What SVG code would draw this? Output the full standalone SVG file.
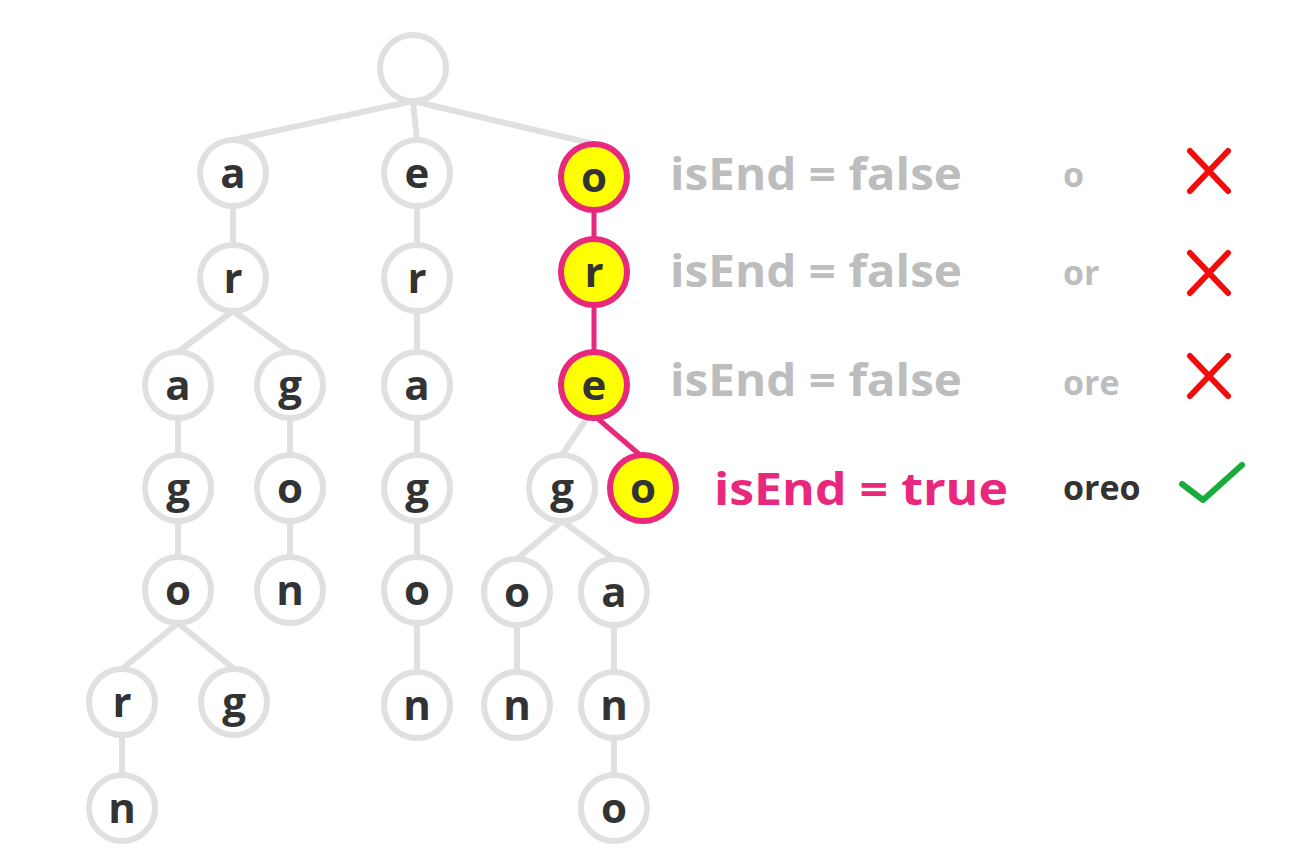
<svg xmlns="http://www.w3.org/2000/svg" width="1312" height="866" viewBox="0 0 1312 866">
<style>
.n circle{fill:#fff;stroke:#e0e0e0;stroke-width:6}
.h circle{fill:#ffff00;stroke:#e8287c;stroke-width:6}
.n text,.h text{font-family:"Open Sans",sans-serif;font-weight:700;font-size:42px;fill:#333;text-anchor:middle}
.e{stroke:#e0e0e0;stroke-width:6;fill:none}
.p{stroke:#e8287c;stroke-width:5;fill:none}
.lbl{font-family:"Open Sans",sans-serif;font-weight:700;font-size:45px;fill:#bdbdbd}
.w{font-family:"Open Sans",sans-serif;font-weight:700;font-size:34px;fill:#bdbdbd}
.x{stroke:#f20d0d;stroke-width:6;stroke-linecap:round;fill:none}
</style>
<rect width="1312" height="866" fill="#fff"/>
<g id="connectors">
<line class="e" x1="413" y1="101" x2="233" y2="140"/>
<line class="e" x1="413" y1="101" x2="417" y2="140"/>
<line class="e" x1="413" y1="101" x2="594" y2="144"/>
<line class="e" x1="233" y1="206" x2="233" y2="245"/>
<line class="e" x1="233" y1="311" x2="178" y2="352"/>
<line class="e" x1="233" y1="311" x2="290" y2="352"/>
<line class="e" x1="178" y1="418" x2="178" y2="455"/>
<line class="e" x1="290" y1="418" x2="290" y2="455"/>
<line class="e" x1="178" y1="521" x2="178" y2="557"/>
<line class="e" x1="290" y1="521" x2="290" y2="557"/>
<line class="e" x1="178" y1="623" x2="122" y2="669"/>
<line class="e" x1="178" y1="623" x2="234" y2="669"/>
<line class="e" x1="122" y1="735" x2="122" y2="775"/>
<line class="e" x1="417" y1="206" x2="417" y2="245"/>
<line class="e" x1="417" y1="311" x2="417" y2="352"/>
<line class="e" x1="417" y1="418" x2="417" y2="455"/>
<line class="e" x1="417" y1="521" x2="417" y2="557"/>
<line class="e" x1="417" y1="623" x2="417" y2="672"/>
<line class="e" x1="587" y1="418" x2="562" y2="455"/>
<line class="e" x1="562" y1="521" x2="517" y2="559"/>
<line class="e" x1="562" y1="521" x2="614" y2="559"/>
<line class="e" x1="517" y1="625" x2="517" y2="672"/>
<line class="e" x1="614" y1="625" x2="614" y2="672"/>
<line class="e" x1="614" y1="738" x2="614" y2="775"/>
<line class="p" x1="594" y1="210" x2="594" y2="239"/>
<line class="p" x1="594" y1="305" x2="594" y2="352"/>
<line class="p" x1="597" y1="418" x2="640" y2="455"/>
</g>
<g id="root" class="n"><circle cx="413" cy="68" r="33"/></g>
<g id="n-a" class="n"><circle cx="233" cy="173" r="33"/><text x="233" y="188">a</text></g>
<g id="n-e" class="n"><circle cx="417" cy="173" r="33"/><text x="417" y="188">e</text></g>
<g id="n-o" class="h"><circle cx="594" cy="177" r="33"/><text x="594" y="192">o</text></g>
<g id="n-ar" class="n"><circle cx="233" cy="278" r="33"/><text x="233" y="293">r</text></g>
<g id="n-er" class="n"><circle cx="417" cy="278" r="33"/><text x="417" y="293">r</text></g>
<g id="n-or" class="h"><circle cx="594" cy="272" r="33"/><text x="594" y="287">r</text></g>
<g id="n-ara" class="n"><circle cx="178" cy="385" r="33"/><text x="178" y="400">a</text></g>
<g id="n-arg" class="n"><circle cx="290" cy="385" r="33"/><text x="290" y="400">g</text></g>
<g id="n-era" class="n"><circle cx="417" cy="385" r="33"/><text x="417" y="400">a</text></g>
<g id="n-ore" class="h"><circle cx="594" cy="385" r="33"/><text x="594" y="400">e</text></g>
<g id="n-arag" class="n"><circle cx="178" cy="488" r="33"/><text x="178" y="503">g</text></g>
<g id="n-argo" class="n"><circle cx="290" cy="488" r="33"/><text x="290" y="503">o</text></g>
<g id="n-erag" class="n"><circle cx="417" cy="488" r="33"/><text x="417" y="503">g</text></g>
<g id="n-oreg" class="n"><circle cx="562" cy="488" r="33"/><text x="562" y="503">g</text></g>
<g id="n-oreo" class="h"><circle cx="643" cy="488" r="33"/><text x="643" y="503">o</text></g>
<g id="n-arago" class="n"><circle cx="178" cy="590" r="33"/><text x="178" y="605">o</text></g>
<g id="n-argon" class="n"><circle cx="290" cy="590" r="33"/><text x="290" y="605">n</text></g>
<g id="n-erago" class="n"><circle cx="417" cy="590" r="33"/><text x="417" y="605">o</text></g>
<g id="n-orego" class="n"><circle cx="517" cy="592" r="33"/><text x="517" y="607">o</text></g>
<g id="n-orega" class="n"><circle cx="614" cy="592" r="33"/><text x="614" y="607">a</text></g>
<g id="n-aragor" class="n"><circle cx="122" cy="702" r="33"/><text x="122" y="717">r</text></g>
<g id="n-aragog" class="n"><circle cx="234" cy="702" r="33"/><text x="234" y="717">g</text></g>
<g id="n-eragon" class="n"><circle cx="417" cy="705" r="33"/><text x="417" y="720">n</text></g>
<g id="n-oregon" class="n"><circle cx="517" cy="705" r="33"/><text x="517" y="720">n</text></g>
<g id="n-oregan" class="n"><circle cx="614" cy="705" r="33"/><text x="614" y="720">n</text></g>
<g id="n-aragorn" class="n"><circle cx="122" cy="808" r="33"/><text x="122" y="823">n</text></g>
<g id="n-oregano" class="n"><circle cx="614" cy="808" r="33"/><text x="614" y="823">o</text></g>
<g id="labels">
<text class="lbl" x="670" y="190" textLength="292" lengthAdjust="spacingAndGlyphs">isEnd = false</text>
<text class="lbl" x="670" y="287" textLength="292" lengthAdjust="spacingAndGlyphs">isEnd = false</text>
<text class="lbl" x="670" y="396" textLength="292" lengthAdjust="spacingAndGlyphs">isEnd = false</text>
<text class="lbl" x="714" y="505" textLength="294" lengthAdjust="spacingAndGlyphs" style="fill:#e8287c">isEnd = true</text>
<text class="w" x="1063" y="187">o</text>
<text class="w" x="1063" y="285">or</text>
<text class="w" x="1063" y="395">ore</text>
<text class="w" x="1063" y="500" style="fill:#333">oreo</text>
</g>
<g id="marks">
<path class="x" d="M1190 151L1228 191M1228 151L1190 191"/>
<path class="x" d="M1190 253L1228 293M1228 253L1190 293"/>
<path class="x" d="M1190 356L1228 396M1228 356L1190 396"/>
<path d="M1182 484L1203 500L1242 465" stroke="#1aab3d" stroke-width="6" stroke-linecap="round" stroke-linejoin="round" fill="none"/>
</g>
</svg>
